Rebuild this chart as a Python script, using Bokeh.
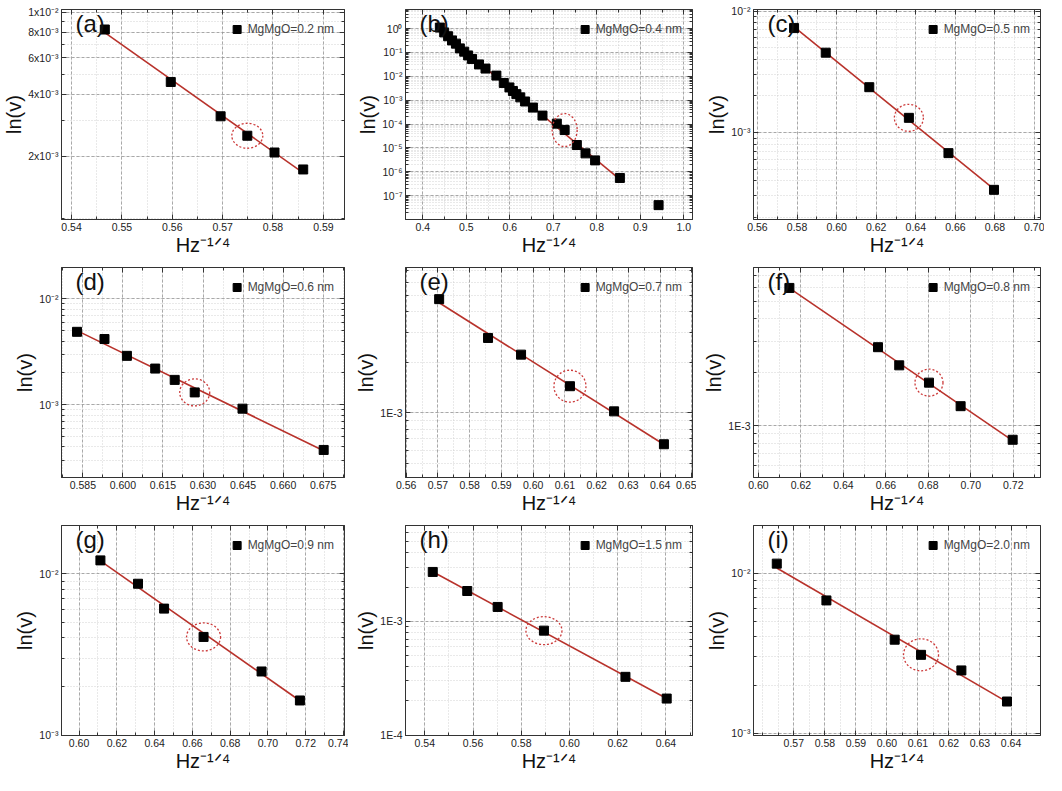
import numpy as np
from bokeh.plotting import figure
from bokeh.layouts import gridplot
from bokeh.models import (FixedTicker, CustomJSTickFormatter, Label, LinearAxis, LogAxis,
                          Legend, LegendItem, Range1d)
from bokeh.embed import file_html
from bokeh.resources import INLINE

# ---------------- data ----------------
letters = ["(a)", "(b)", "(c)", "(d)", "(e)", "(f)", "(g)", "(h)", "(i)"]
legend_labels = ["MgMgO=0.2 nm", "MgMgO=0.4 nm", "MgMgO=0.5 nm", "MgMgO=0.6 nm", "MgMgO=0.7 nm",
                 "MgMgO=0.8 nm", "MgMgO=0.9 nm", "MgMgO=1.5 nm", "MgMgO=2.0 nm"]
x_title = "Hz⁻¹ᐟ⁴"
y_title = "ln(v)"

x_a = [0.5466, 0.5597, 0.5696, 0.5749, 0.5803, 0.5860]
y_a = [8.24e-3, 4.59e-3, 3.13e-3, 2.52e-3, 2.09e-3, 1.73e-3]

x_b = [0.439, 0.449, 0.458, 0.467, 0.476, 0.485, 0.495, 0.504, 0.513, 0.529, 0.544, 0.569, 0.586,
       0.599, 0.607, 0.615, 0.624, 0.635, 0.653, 0.675, 0.708, 0.726, 0.754, 0.774, 0.796, 0.853, 0.942]
y_b = [1.10, 0.69, 0.477, 0.319, 0.234, 0.148, 0.108, 0.0748, 0.0533, 0.0315, 0.0211, 1.07e-2, 5.26e-3,
       3.42e-3, 2.43e-3, 1.79e-3, 1.31e-3, 8.8e-4, 4.89e-4, 2.26e-4, 1.04e-4, 5.6e-5, 1.32e-5, 5.9e-6,
       3.0e-6, 5.5e-7, 4.0e-8]

x_c = [0.5785, 0.5945, 0.6165, 0.6365, 0.6565, 0.6795]
y_c = [7.24e-3, 4.54e-3, 2.36e-3, 1.32e-3, 6.76e-4, 3.37e-4]

x_d = [0.5828, 0.5931, 0.6015, 0.6121, 0.6194, 0.6269, 0.6448, 0.6752]
y_d = [4.89e-3, 4.18e-3, 2.90e-3, 2.20e-3, 1.72e-3, 1.31e-3, 9.2e-4, 3.75e-4]

x_e = [0.5704, 0.5858, 0.5962, 0.6116, 0.6255, 0.6412]
y_e = [4.75e-3, 2.79e-3, 2.22e-3, 1.44e-3, 1.02e-3, 6.5e-4]

x_f = [0.6146, 0.6563, 0.6663, 0.6803, 0.6952, 0.7197]
y_f = [5.97e-3, 2.77e-3, 2.19e-3, 1.75e-3, 1.29e-3, 8.35e-4]

x_g = [0.6113, 0.6312, 0.6450, 0.6659, 0.6966, 0.7169]
y_g = [1.21e-2, 8.67e-3, 6.08e-3, 4.06e-3, 2.48e-3, 1.64e-3]

x_h = [0.5433, 0.5576, 0.5702, 0.5894, 0.6232, 0.6403]
y_h = [2.72e-3, 1.85e-3, 1.34e-3, 8.3e-4, 3.26e-4, 2.1e-4]

x_i = [0.5645, 0.5805, 0.6025, 0.6110, 0.6240, 0.6387]
y_i = [1.145e-2, 6.75e-3, 3.84e-3, 3.09e-3, 2.47e-3, 1.58e-3]

# index of the circled point, number of points used for the fitted line
circled = [3, 21, 3, 5, 3, 3, 3, 3, 3]
fit_counts = [6, 26, 6, 8, 6, 6, 6, 6, 6]

# tick values and tick labels
xt_a = [0.54, 0.55, 0.56, 0.57, 0.58, 0.59]
xl_a = ["0.54", "0.55", "0.56", "0.57", "0.58", "0.59"]
yt_a = [2e-3, 4e-3, 6e-3, 8e-3, 1e-2]
yl_a = ["2x10⁻³", "4x10⁻³", "6x10⁻³", "8x10⁻³", "1x10⁻²"]

xt_b = [0.4, 0.5, 0.6, 0.7, 0.8, 0.9, 1.0]
xl_b = ["0.4", "0.5", "0.6", "0.7", "0.8", "0.9", "1.0"]
yt_b = [1e0, 1e-1, 1e-2, 1e-3, 1e-4, 1e-5, 1e-6, 1e-7]
yl_b = ["10⁰", "10⁻¹", "10⁻²", "10⁻³", "10⁻⁴", "10⁻⁵", "10⁻⁶", "10⁻⁷"]

xt_c = [0.56, 0.58, 0.60, 0.62, 0.64, 0.66, 0.68, 0.70]
xl_c = ["0.56", "0.58", "0.60", "0.62", "0.64", "0.66", "0.68", "0.70"]
yt_c = [1e-3, 1e-2]
yl_c = ["10⁻³", "10⁻²"]

xt_d = [0.585, 0.600, 0.615, 0.630, 0.645, 0.660, 0.675]
xl_d = ["0.585", "0.600", "0.615", "0.630", "0.645", "0.660", "0.675"]
yt_d = [1e-3, 1e-2]
yl_d = ["10⁻³", "10⁻²"]

xt_e = [0.56, 0.57, 0.58, 0.59, 0.60, 0.61, 0.62, 0.63, 0.64, 0.65]
xl_e = ["0.56", "0.57", "0.58", "0.59", "0.60", "0.61", "0.62", "0.63", "0.64", "0.65"]
yt_e = [1e-3]
yl_e = ["1E-3"]

xt_f = [0.60, 0.62, 0.64, 0.66, 0.68, 0.70, 0.72]
xl_f = ["0.60", "0.62", "0.64", "0.66", "0.68", "0.70", "0.72"]
yt_f = [1e-3]
yl_f = ["1E-3"]

xt_g = [0.60, 0.62, 0.64, 0.66, 0.68, 0.70, 0.72, 0.74]
xl_g = ["0.60", "0.62", "0.64", "0.66", "0.68", "0.70", "0.72", "0.74"]
yt_g = [1e-3, 1e-2]
yl_g = ["10⁻³", "10⁻²"]

xt_h = [0.54, 0.56, 0.58, 0.60, 0.62, 0.64]
xl_h = ["0.54", "0.56", "0.58", "0.60", "0.62", "0.64"]
yt_h = [1e-4, 1e-3]
yl_h = ["1E-4", "1E-3"]

xt_i = [0.57, 0.58, 0.59, 0.60, 0.61, 0.62, 0.63, 0.64]
xl_i = ["0.57", "0.58", "0.59", "0.60", "0.61", "0.62", "0.63", "0.64"]
yt_i = [1e-3, 1e-2]
yl_i = ["10⁻³", "10⁻²"]

# axis ranges
xr_all = [(0.538, 0.5942), (0.36, 1.02), (0.558, 0.703), (0.577, 0.683), (0.5598, 0.6502),
          (0.5977, 0.7328), (0.5907, 0.7405), (0.532, 0.651), (0.557, 0.6495)]
yr_all = [(0.99e-3, 1.03e-2), (1.0e-8, 6.3), (1.92e-4, 1.03e-2), (2.06e-4, 1.98e-2), (4.12e-4, 7.33e-3),
          (5.12e-4, 7.78e-3), (0.995e-3, 1.99e-2), (0.995e-4, 6.96e-3), (0.97e-3, 1.98e-2)]

# ---------------- styling ----------------
W, H = 348, 258
BL, BR, BT, BB = 57, 4, 9, 38
FONT = "Liberation Sans"
RED = "#b8322b"
CIRC = "#cc3a3a"
ELL = [(31, 25), (25, 33), (29, 27), (30, 27), (32, 32), (28, 27), (34, 28), (36, 28), (35, 32)]

LOOKUP = """
for (let i = 0; i < t.length; i++) {
  if (Math.abs(t[i] - tick) <= 1e-6 * Math.abs(t[i])) { return l[i]; }
}
return '';
"""


def log_minor(lo, hi):
    out = []
    for n in range(-10, 3):
        for k in range(1, 10):
            v = k * 10.0 ** n
            if lo <= v <= hi:
                out.append(v)
    return out


def lin_minor(ticks, lo, hi):
    step = ticks[1] - ticks[0]
    vals = np.arange(ticks[0] - 2 * step, ticks[-1] + 2 * step, step / 2.0)
    return [float(v) for v in vals if lo <= v <= hi]


def style_axis(ax, hide=False):
    ax.major_tick_in = 5
    ax.major_tick_out = 0
    ax.minor_tick_in = 3
    ax.minor_tick_out = 0
    ax.axis_line_color = "#333333"
    ax.major_tick_line_color = "#333333"
    ax.minor_tick_line_color = "#333333"
    ax.major_label_text_font = FONT
    ax.major_label_text_color = "#222222"
    if hide:
        ax.major_label_text_font_size = "0px"
        ax.major_label_standoff = 0
    else:
        ax.major_label_text_font_size = "10.5px"
        ax.major_label_standoff = 3
        ax.axis_label_text_font = FONT
        ax.axis_label_text_font_style = "normal"
        ax.axis_label_text_font_size = "20px"
        ax.axis_label_text_color = "#111111"
        ax.axis_label_standoff = 0


def make_panel(k, x, y, xt, xl, yt, yl):
    xr, yr = xr_all[k], yr_all[k]
    p = figure(width=W, height=H, x_range=Range1d(*xr), y_range=Range1d(*yr), y_axis_type="log",
               output_backend="svg", toolbar_location=None,
               min_border_left=BL, min_border_right=BR, min_border_top=BT, min_border_bottom=BB)
    p.outline_line_color = "#333333"
    p.background_fill_color = "white"

    xticker = FixedTicker(ticks=xt, minor_ticks=lin_minor(xt, xr[0], xr[1]))
    yticker = FixedTicker(ticks=yt, minor_ticks=log_minor(yr[0], yr[1]))
    p.xaxis.ticker = xticker
    p.yaxis.ticker = yticker
    p.xgrid.ticker = xticker
    p.ygrid.ticker = yticker
    p.xaxis.formatter = CustomJSTickFormatter(args=dict(t=xt, l=xl), code=LOOKUP)
    p.yaxis.formatter = CustomJSTickFormatter(args=dict(t=yt, l=yl), code=LOOKUP)
    for ax in p.xaxis + p.yaxis:
        style_axis(ax)
    p.xaxis.axis_label = x_title
    p.yaxis.axis_label = y_title

    top = LinearAxis(ticker=xticker, formatter=CustomJSTickFormatter(code="return '';"))
    right = LogAxis(ticker=yticker, formatter=CustomJSTickFormatter(code="return '';"))
    style_axis(top, hide=True)
    style_axis(right, hide=True)
    p.add_layout(top, "above")
    p.add_layout(right, "right")

    for g in (p.xgrid, p.ygrid):
        g.grid_line_color = "#969696"
        g.grid_line_dash = "3 2"
        g.grid_line_width = 0.8
        g.minor_grid_line_color = "#c8c8c8"
        g.minor_grid_line_dash = "1 2"
        g.minor_grid_line_width = 0.8

    # fitted line (least squares in log space)
    n = fit_counts[k]
    xf = np.array(x[:n])
    lf = np.log10(np.array(y[:n]))
    slope, icpt = np.polyfit(xf, lf, 1)
    xs = np.array([xf.min(), xf.max()])
    p.line(xs, 10 ** (slope * xs + icpt), line_color=RED, line_width=1.6)

    r = p.scatter(x, y, marker="square", size=9, fill_color="black", line_color="black")

    ci = circled[k]
    ew, eh = ELL[k]
    p.ellipse(x=[x[ci]], y=[y[ci]], width=ew, height=eh, width_units="screen", height_units="screen",
              fill_color=None, line_color=CIRC, line_dash="2 2", line_width=1.3)

    leg = Legend(items=[LegendItem(label=legend_labels[k], renderers=[r])], location="top_right",
                 border_line_color=None, background_fill_alpha=0, label_text_font=FONT,
                 label_text_font_size="12px", glyph_width=20, glyph_height=20, padding=1, margin=10,
                 label_standoff=1, spacing=0)
    p.add_layout(leg)

    fh = H - BT - BB
    p.add_layout(Label(x=14, y=fh - 1, x_units="screen", y_units="screen", text=letters[k],
                       text_font=FONT, text_font_size="24px", text_baseline="top", text_color="#111111"))
    return p


panels = [
    make_panel(0, x_a, y_a, xt_a, xl_a, yt_a, yl_a),
    make_panel(1, x_b, y_b, xt_b, xl_b, yt_b, yl_b),
    make_panel(2, x_c, y_c, xt_c, xl_c, yt_c, yl_c),
    make_panel(3, x_d, y_d, xt_d, xl_d, yt_d, yl_d),
    make_panel(4, x_e, y_e, xt_e, xl_e, yt_e, yl_e),
    make_panel(5, x_f, y_f, xt_f, xl_f, yt_f, yl_f),
    make_panel(6, x_g, y_g, xt_g, xl_g, yt_g, yl_g),
    make_panel(7, x_h, y_h, xt_h, xl_h, yt_h, yl_h),
    make_panel(8, x_i, y_i, xt_i, xl_i, yt_i, yl_i),
]

grid = gridplot([panels[0:3], panels[3:6], panels[6:9]], toolbar_location=None)

open("out.html", "w").write(file_html(grid, INLINE))
